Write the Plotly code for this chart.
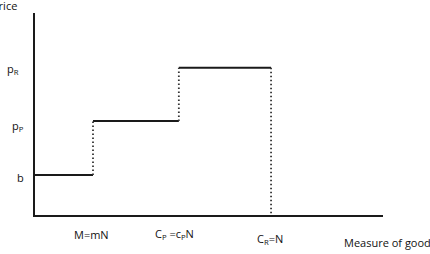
import plotly.graph_objects as go

# Data (schematic units)
price_levels = [1.0, 2.35, 3.68]          # b, p_P, p_R
price_labels = ["b", "p<sub>P</sub>", "p<sub>R</sub>"]
quantities = [1.0, 2.48, 4.07]            # M=mN, C_P=c_PN, C_R=N
quantity_labels = ["M=mN", "C<sub>P</sub> =c<sub>P</sub>N", "C<sub>R</sub>=N"]

X_MAX = 6.0
Y_MAX = 5.05

fig = go.Figure()

# horizontal step segments
starts = [0.0] + quantities[:-1]
for x0, x1, y in zip(starts, quantities, price_levels):
    fig.add_trace(go.Scatter(x=[x0, x1], y=[y, y], mode="lines",
                             line=dict(color="#1a1a1a", width=2), hoverinfo="skip",
                             showlegend=False))

# dotted vertical connectors
for i, q in enumerate(quantities):
    y0 = price_levels[i]
    y1 = price_levels[i + 1] if i + 1 < len(price_levels) else 0.0
    fig.add_trace(go.Scatter(x=[q, q], y=[y0, y1], mode="lines",
                             line=dict(color="#333333", width=1.8, dash="1.5px,2.5px"),
                             hoverinfo="skip", showlegend=False))

font = dict(family="Open Sans, Liberation Sans, sans-serif", size=11, color="#111111")

# price labels (left)
label_x_px = [20, 18, 13]
label_offsets = [-2, -5, -1]
for y, lab, xpx, off in zip(price_levels, price_labels, label_x_px, label_offsets):
    fig.add_annotation(x=(xpx - 35) / 348, xref="paper", y=y, yref="y",
                       text=lab, showarrow=False, font=font,
                       xanchor="center", yanchor="middle", yshift=off)

# quantity labels (bottom)
q_yshift = [-19, -19, -24]
q_xshift = [-2, -4, -1]
for q, lab, ys, xs in zip(quantities, quantity_labels, q_yshift, q_xshift):
    fig.add_annotation(x=q, xref="x", y=0, yref="y", text=lab, showarrow=False,
                       font=font, xanchor="center", yanchor="middle",
                       yshift=ys, xshift=xs)

# axis titles (cut off at the edges as in the reference)
fig.add_annotation(x=(19 - 35) / 348, xref="paper", y=(215 - 6) / 202, yref="paper",
                   text="Price", showarrow=False, font=font,
                   xanchor="right", yanchor="middle")
fig.add_annotation(x=(342 - 35) / 348, xref="paper", y=(215 - 242) / 202, yref="paper",
                   text="Measure of goods", showarrow=False, font=font,
                   xanchor="left", yanchor="middle")

fig.update_xaxes(range=[0, X_MAX], showgrid=False, zeroline=False, showticklabels=False,
                 ticks="", showline=True, linecolor="#1a1a1a", linewidth=2)
fig.update_yaxes(range=[0, Y_MAX], showgrid=False, zeroline=False, showticklabels=False,
                 ticks="", showline=True, linecolor="#1a1a1a", linewidth=2)

fig.update_layout(width=430, height=254, margin=dict(l=35, r=47, t=13, b=39),
                  paper_bgcolor="white", plot_bgcolor="white", showlegend=False)

fig.write_html("out.html")
